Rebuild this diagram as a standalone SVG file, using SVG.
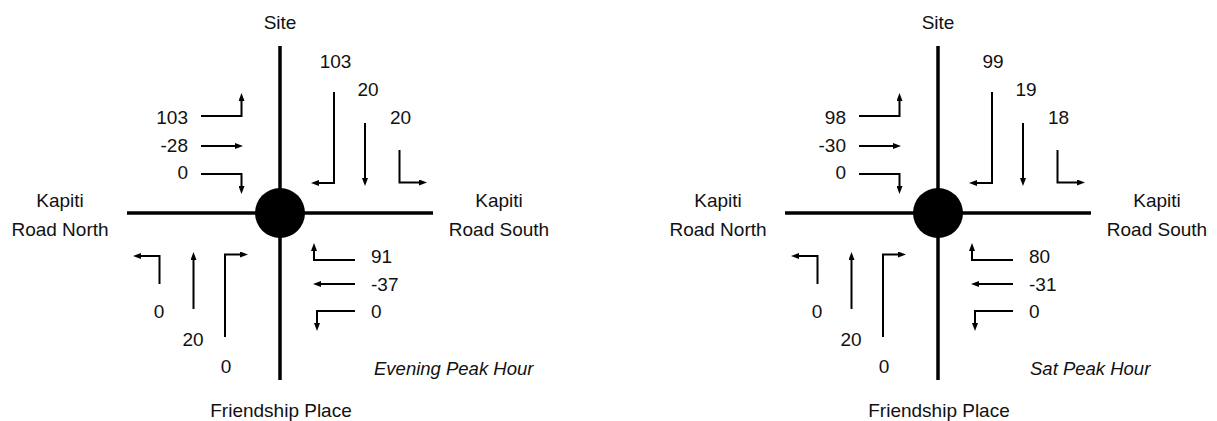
<svg xmlns="http://www.w3.org/2000/svg" width="1217" height="421" viewBox="0 0 1217 421">
<style>
text{font-family:"Liberation Sans",Arial,sans-serif;font-size:19px;fill:#111}
.c{text-anchor:middle}.e{text-anchor:end}
.t{font-style:italic;font-size:18.5px}
.road{stroke:#000;stroke-width:3.5;fill:none}
.mv{stroke:#000;stroke-width:2;fill:none;marker-end:url(#ah)}
</style>
<defs>
<marker id="ah" viewBox="0 0 8 6" refX="2" refY="3" markerWidth="8" markerHeight="6" markerUnits="userSpaceOnUse" orient="auto">
<path d="M0,0 L8,3 L0,6 z" fill="#000"/>
</marker>
<g id="diagram">
<g class="connectors">
<path class="road" d="M280,46 V380"/>
<path class="road" d="M127,213 H433"/>
<path class="mv" d="M201,116 H241.5 V99"/>
<path class="mv" d="M201,146 H237"/>
<path class="mv" d="M201,174 H241.5 V188"/>
<path class="mv" d="M334,92 V183 H317"/>
<path class="mv" d="M365,123 V180"/>
<path class="mv" d="M399.5,150 V182.5 H421"/>
<path class="mv" d="M159.5,284 V256 H139"/>
<path class="mv" d="M193.5,309 V258"/>
<path class="mv" d="M225,337 V254.5 H242"/>
<path class="mv" d="M355,260 H314 V249"/>
<path class="mv" d="M355,284 H319"/>
<path class="mv" d="M355,311 H317 V325"/>
</g>
<circle cx="280" cy="213" r="25" fill="#000"/>
<text class="c" x="280" y="29">Site</text>
<text class="c" x="281" y="417">Friendship Place</text>
<text class="c" x="60" y="207">Kapiti</text>
<text class="c" x="60" y="236">Road North</text>
<text class="c" x="499" y="207">Kapiti</text>
<text class="c" x="499" y="236">Road South</text>
</g>
</defs>

<g id="evening">
<use href="#diagram"/>
<g id="ev-west"><text class="e" x="188" y="124">103</text><text class="e" x="188" y="152">-28</text><text class="e" x="188" y="179">0</text></g>
<g id="ev-north"><text class="c" x="335.5" y="68">103</text><text class="c" x="368" y="96">20</text><text class="c" x="400.5" y="124">20</text></g>
<g id="ev-south"><text class="c" x="159" y="318">0</text><text class="c" x="193" y="346">20</text><text class="c" x="226" y="373">0</text></g>
<g id="ev-east"><text x="371" y="263">91</text><text x="371" y="291">-37</text><text x="371" y="318">0</text></g>
<text class="t" x="374" y="375">Evening Peak Hour</text>
</g>

<g id="saturday">
<use href="#diagram" transform="translate(658,0)"/>
<g id="sat-west"><text class="e" x="846" y="124">98</text><text class="e" x="846" y="152">-30</text><text class="e" x="846" y="179">0</text></g>
<g id="sat-north"><text class="c" x="993" y="68">99</text><text class="c" x="1026" y="96">19</text><text class="c" x="1058.5" y="124">18</text></g>
<g id="sat-south"><text class="c" x="817" y="318">0</text><text class="c" x="851" y="346">20</text><text class="c" x="884" y="373">0</text></g>
<g id="sat-east"><text x="1029" y="263">80</text><text x="1029" y="291">-31</text><text x="1029" y="318">0</text></g>
<text class="t" x="1030" y="375">Sat Peak Hour</text>
</g>
</svg>
